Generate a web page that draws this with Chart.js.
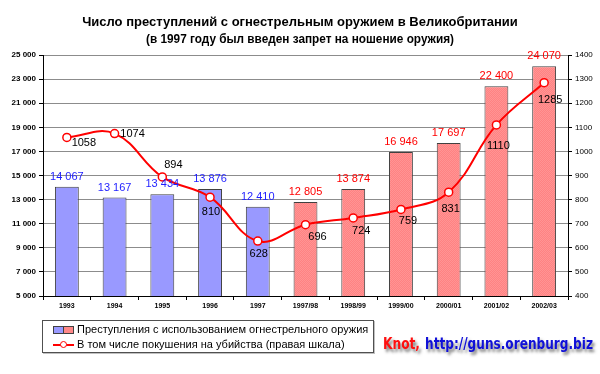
<!DOCTYPE html>
<html lang="ru">
<head>
<meta charset="UTF-8">
<title>Огнестрельное оружие</title>
<style>
  body { margin: 0; background: #fff; font-family: "Liberation Sans", Arial, sans-serif; }
  #wrap { position: relative; width: 600px; height: 374px; }
  #legend { position: absolute; left: 42px; top: 320px; width: 330px; height: 31px;
            border: 1px solid #505050; box-shadow: 1px 1px 0 #c0c0c0; font-size: 11px; color: #000; }
  .row { position: absolute; left: 10px; height: 14px; line-height: 14px; white-space: nowrap; }
  .sw { display: inline-block; vertical-align: middle; width: 9px; height: 6px; border: 1px solid #404040; }
</style>
</head>
<body>
<div id="wrap">
  <canvas id="myChart" width="600" height="374"></canvas>
  <div id="legend">
    <div class="row" style="top:1px"><span class="sw" style="background:#9999FF"></span><span class="sw" style="background:#FF8888;border-left:none"></span> Преступления с использованием огнестрельного оружия</div>
    <div class="row" style="top:16px"><span style="display:inline-block;position:relative;width:21px;height:10px;vertical-align:middle"><span style="position:absolute;left:0;top:4px;width:21px;height:2px;background:#f00"></span><span style="position:absolute;left:7px;top:1px;width:5px;height:5px;border:1px solid #f00;border-radius:50%;background:#fff"></span></span> В том числе покушения на убийства (правая шкала)</div>
  </div>
</div>

<script src="https://cdn.jsdelivr.net/npm/chart.js@4.4.0/dist/chart.umd.min.js"></script>
<script>
// data
const years = ['1993', '1994', '1995', '1996', '1997', '1997/98', '1998/99', '1999/00', '2000/01', '2001/02', '2002/03'];
const crimes = [14067, 13167, 13434, 13876, 12410, 12805, 13874, 16946, 17697, 22400, 24070];
const murders = [1058, 1074, 894, 810, 628, 696, 724, 759, 831, 1110, 1285];
const banIndex = 5; // first year after the ban -> red bars

// where each line label sits relative to its point
const murderLabelOffsets = [[17, 6], [18, 0], [11, -12], [1, 15], [1, 13], [12, 12], [8, 13], [7, 11], [2, 17], [2, 21], [6, 17]];

function fmtThousands(v) {
    return String(v).replace(/\B(?=(\d{3})+(?!\d))/g, ' ');
}

// dotted pink texture like the original
function makeHatch() {
    const c = document.createElement('canvas');
    c.width = 2; c.height = 2;
    const g = c.getContext('2d');
    g.fillStyle = '#FF8282'; g.fillRect(0, 0, 2, 2);
    g.fillStyle = '#FF9494'; g.fillRect(0, 0, 1, 1); g.fillRect(1, 1, 1, 1);
    return g.createPattern(c, 'repeat');
}
const hatch = makeHatch();
const barColors = crimes.map((v, i) => i < banIndex ? '#9999FF' : hatch);
const barLabelColors = crimes.map((v, i) => i < banIndex ? '#1E1EFF' : '#FF0000');

const extrasPlugin = {
    id: 'extras',
    afterDatasetsDraw(chart) {
        const ctx = chart.ctx;
        ctx.save();
        ctx.textAlign = 'center';
        ctx.textBaseline = 'middle';
        ctx.font = '11px "Liberation Sans", Arial, sans-serif';
        // bar labels
        chart.getDatasetMeta(0).data.forEach((bar, i) => {
            ctx.fillStyle = barLabelColors[i];
            ctx.fillText(fmtThousands(crimes[i]), bar.x, bar.y - 10);
        });
        // point labels
        ctx.fillStyle = '#000';
        chart.getDatasetMeta(1).data.forEach((pt, i) => {
            const o = murderLabelOffsets[i];
            ctx.fillText(String(murders[i]), pt.x + o[0], pt.y + o[1]);
        });
        ctx.restore();
    },
    afterDraw(chart) {
        const ctx = chart.ctx;
        ctx.save();
        ctx.textAlign = 'center';
        ctx.textBaseline = 'middle';
        ctx.fillStyle = '#000';
        ctx.font = 'bold 13px "Liberation Sans", Arial, sans-serif';
        ctx.fillText('Число преступлений с огнестрельным оружием в Великобритании', 300, 22);
        ctx.font = 'bold 12px "Liberation Sans", Arial, sans-serif';
        ctx.fillText('(в 1997 году был введен запрет на ношение оружия)', 300, 40, 308);

        // watermark
        ctx.textAlign = 'left';
        ctx.font = 'bold 16px "DejaVu Sans", sans-serif';
        ctx.shadowColor = 'rgba(90,90,90,0.8)';
        ctx.shadowBlur = 3;
        ctx.shadowOffsetX = 2;
        ctx.shadowOffsetY = 3;
        ctx.fillStyle = '#FF1010';
        ctx.fillText('Knot,', 383, 345, 37);
        ctx.fillStyle = '#1010D8';
        ctx.fillText('http://guns.orenburg.biz', 425, 345, 168);
        ctx.restore();
    }
};

const config = {
    type: 'bar',
    data: {
        labels: years,
        datasets: [{
            label: 'Преступления с использованием огнестрельного оружия',
            data: crimes,
            backgroundColor: barColors,
            borderColor: '#404040',
            borderWidth: 1,
            barPercentage: 0.5,
            categoryPercentage: 1,
            yAxisID: 'y',
            order: 2
        }, {
            type: 'line',
            label: 'В том числе покушения на убийства (правая шкала)',
            data: murders,
            borderColor: '#FF0000',
            borderWidth: 2,
            pointRadius: 4,
            pointBackgroundColor: '#FFFFFF',
            pointBorderColor: '#FF0000',
            pointBorderWidth: 1.5,
            tension: 0.4,
            yAxisID: 'y1',
            order: 1
        }]
    },
    options: {
        responsive: false,
        animation: false,
        layout: { padding: { top: 55, bottom: 58, left: 0, right: 0 } },
        plugins: {
            legend: { display: false },
            tooltip: { enabled: false }
        },
        scales: {
            x: {
                afterFit(s) { s.height = 20; },
                grid: { offset: true, drawOnChartArea: false, tickLength: 4, color: '#000' },
                border: { color: '#000' },
                ticks: { color: '#000', font: { size: 7, weight: 'bold', family: '"Liberation Sans", Arial' }, padding: 2, maxRotation: 0, autoSkip: false }
            },
            y: {
                position: 'left',
                min: 5000, max: 25000,
                afterFit(s) { s.width = 43; },
                grid: { color: '#8C8C8C', tickLength: 4, tickColor: '#000' },
                border: { color: '#000' },
                ticks: { stepSize: 2000, color: '#000', padding: 3, font: { size: 8, weight: 'bold', family: '"Liberation Sans", Arial' },
                         callback: v => fmtThousands(v) }
            },
            y1: {
                position: 'right',
                min: 400, max: 1400,
                afterFit(s) { s.width = 32; },
                grid: { drawOnChartArea: false, tickLength: 4, color: '#000' },
                border: { color: '#000' },
                ticks: { stepSize: 100, color: '#000', padding: 3, font: { size: 8, family: '"Liberation Sans", Arial' },
                         callback: v => String(v) }
            }
        }
    },
    plugins: [extrasPlugin]
};

const myChart = new Chart(document.getElementById('myChart'), config);
</script>
</body>
</html>
